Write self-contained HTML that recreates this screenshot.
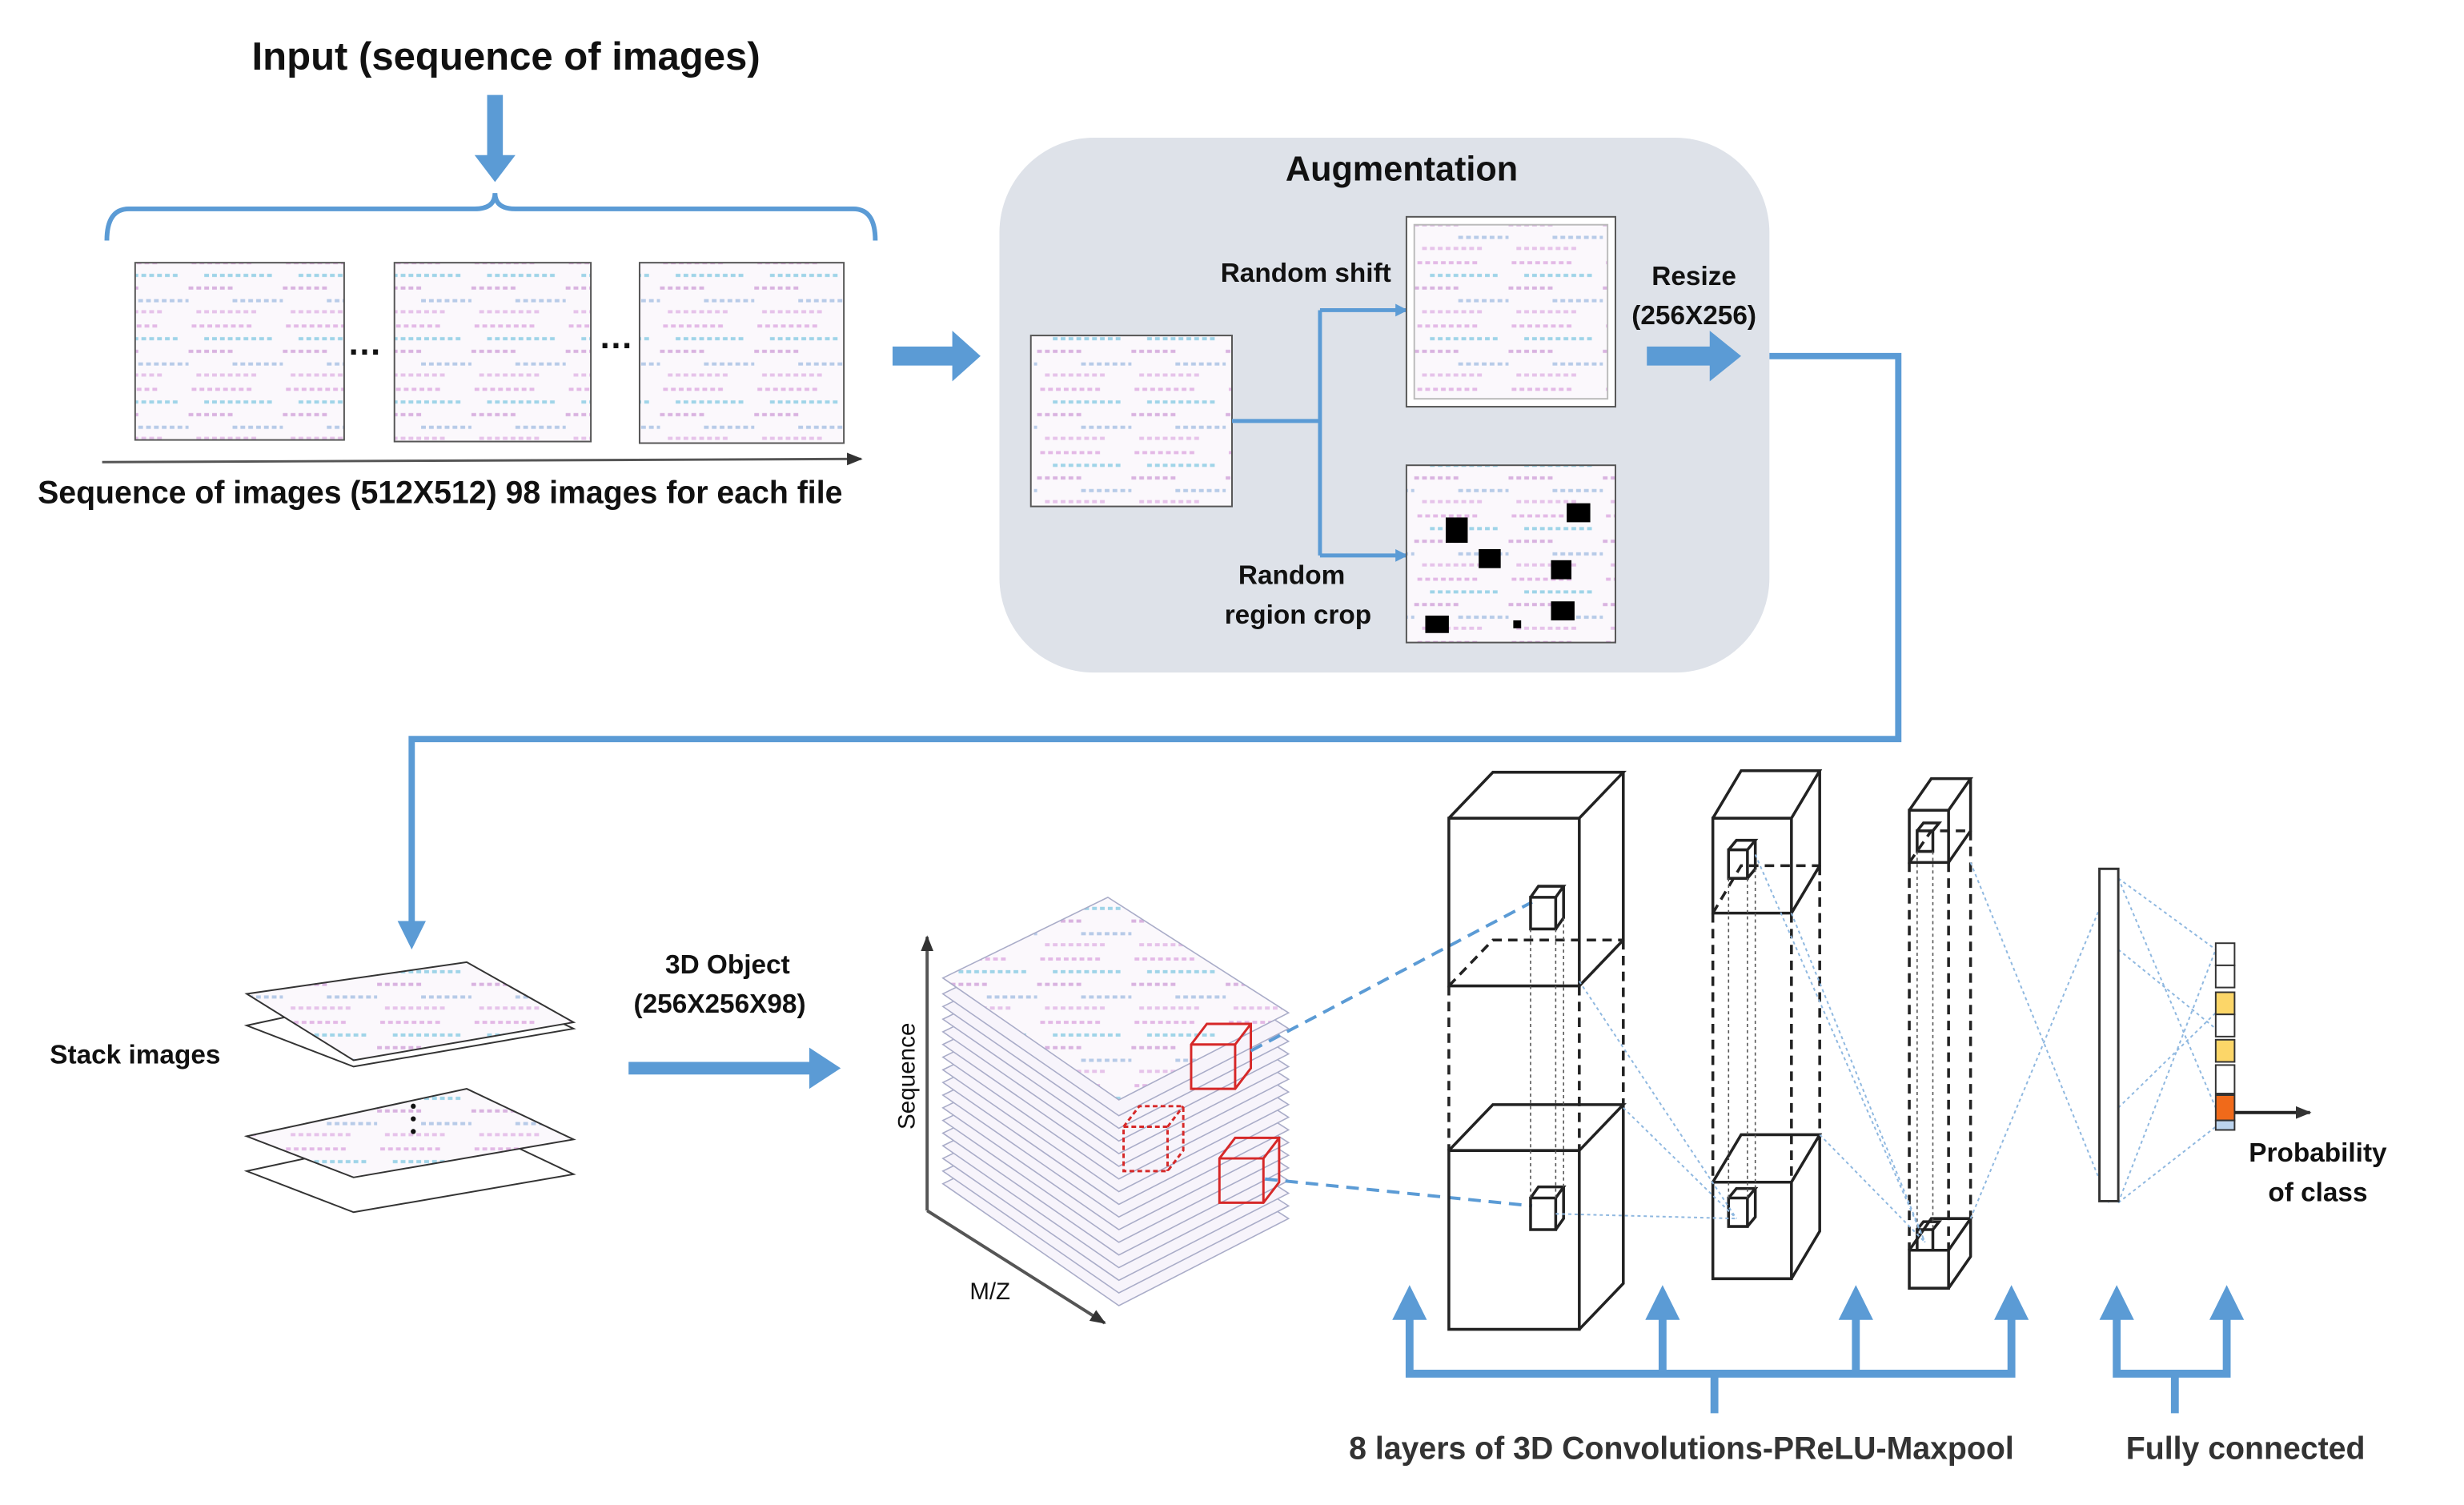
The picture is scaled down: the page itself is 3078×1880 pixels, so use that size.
<!DOCTYPE html>
<html><head><meta charset="utf-8"><style>
html,body{margin:0;padding:0;background:#fff}
svg{display:block}
text{font-family:"Liberation Sans",sans-serif;font-weight:bold;fill:#111}
</style></head><body>
<svg width="3078" height="1880" viewBox="0 0 1568 951" preserveAspectRatio="none" xmlns="http://www.w3.org/2000/svg">
<defs>
<pattern id="tex" width="60" height="40" patternUnits="userSpaceOnUse">
<rect width="60" height="40" fill="#fbf8fc"/>
<g stroke-width="2" stroke-dasharray="3 2">
<line x1="2" y1="6" x2="40" y2="6" stroke="#e3b9e6"/>
<line x1="10" y1="14" x2="55" y2="14" stroke="#9fd4e8"/>
<line x1="0" y1="22" x2="30" y2="22" stroke="#d9b3e0"/>
<line x1="28" y1="30" x2="60" y2="30" stroke="#b7cbe8"/>
<line x1="5" y1="37" x2="45" y2="37" stroke="#e6c3ea"/>
</g>
</pattern>
<marker id="ah" markerWidth="8" markerHeight="8" refX="7" refY="4" orient="auto" markerUnits="userSpaceOnUse"><path d="M0,0 L8,4 L0,8z" fill="#5b9bd5"/></marker>
<marker id="ak" markerWidth="10" markerHeight="10" refX="9" refY="5" orient="auto" markerUnits="userSpaceOnUse"><path d="M0,1 L10,5 L0,9z" fill="#333"/></marker>
</defs>

<text x="322" y="44" font-size="25" text-anchor="middle">Input (sequence of images)</text>
<path d="M310 60 h10 v38 h8 l-13 17 l-13 -17 h8z" fill="#5b9bd5"/>
<path d="M68 152 q0 -20 14 -20 h220 q13 0 13 -10 q0 10 13 10 h215 q14 0 14 20" fill="none" stroke="#5b9bd5" stroke-width="3"/>
<rect x="86" y="166" width="133" height="112" fill="url(#tex)" stroke="#555"/>
<rect x="251" y="166" width="125" height="113" fill="url(#tex)" stroke="#555"/>
<rect x="407" y="166" width="130" height="114" fill="url(#tex)" stroke="#555"/>
<text x="232" y="224" font-size="22" text-anchor="middle">…</text>
<text x="392" y="220" font-size="22" text-anchor="middle">…</text>
<line x1="65" y1="292" x2="548" y2="290" stroke="#555" stroke-width="1.5" marker-end="url(#ak)"/>
<text x="24" y="318" font-size="20">Sequence of images (512X512)  98 images for each file</text>
<path d="M568 219 h38 v-10 l18 16 l-18 16 v-10 h-38z" fill="#5b9bd5"/>

<rect x="636" y="87" width="490" height="338" rx="60" fill="#dee2e9"/>
<text x="892" y="114" font-size="22" text-anchor="middle">Augmentation</text>
<rect x="656" y="212" width="128" height="108" fill="url(#tex)" stroke="#555"/>
<polyline points="784,266 840,266" fill="none" stroke="#5b9bd5" stroke-width="2.5"/>
<polyline points="840,196 840,351" fill="none" stroke="#5b9bd5" stroke-width="2.5"/>
<line x1="840" y1="196" x2="895" y2="196" stroke="#5b9bd5" stroke-width="2.5" marker-end="url(#ah)"/>
<line x1="840" y1="351" x2="895" y2="351" stroke="#5b9bd5" stroke-width="2.5" marker-end="url(#ah)"/>
<rect x="895" y="137" width="133" height="120" fill="#fff" stroke="#555"/>
<rect x="900" y="142" width="123" height="110" fill="url(#tex)" stroke="#bbb"/>
<rect x="895" y="294" width="133" height="112" fill="url(#tex)" stroke="#555"/>
<g fill="#000">
<rect x="920" y="327" width="14" height="16"/><rect x="941" y="347" width="14" height="12"/>
<rect x="997" y="318" width="15" height="12"/><rect x="987" y="354" width="13" height="12"/>
<rect x="987" y="380" width="15" height="12"/><rect x="907" y="389" width="15" height="11"/>
<rect x="963" y="392" width="5" height="5"/>
</g>
<text x="831" y="178" font-size="17" text-anchor="middle">Random shift</text>
<text x="822" y="369" font-size="17" text-anchor="middle">Random</text>
<text x="826" y="394" font-size="17" text-anchor="middle">region crop</text>
<text x="1078" y="180" font-size="17" text-anchor="middle">Resize</text>
<text x="1078" y="205" font-size="17" text-anchor="middle">(256X256)</text>
<path d="M1048 219 h40 v-10 l20 16 l-20 16 v-10 h-40z" fill="#5b9bd5"/>

<polyline points="1126,225 1208,225 1208,467 262,467 262,585" fill="none" stroke="#5b9bd5" stroke-width="4"/>
<path d="M253 582 l9 18 l9 -18z" fill="#5b9bd5"/>

<g fill="#fff" stroke="#333" stroke-width="1">
<path d="M157 740 l140 -30 l68 32 l-140 24z"/>
<path d="M157 718 l140 -30 l68 32 l-140 24z" fill="url(#tex)"/>
<path d="M157 648 l140 -30 l68 32 l-140 24z"/>
<path d="M157 628 l140 -20 l68 38 l-140 24z" fill="url(#tex)"/>
</g>
<g fill="#111"><circle cx="263" cy="699" r="1.6"/><circle cx="263" cy="707" r="1.6"/><circle cx="263" cy="715" r="1.6"/></g>
<text x="86" y="672" font-size="17" text-anchor="middle">Stack images</text>
<text x="463" y="615" font-size="17" text-anchor="middle">3D Object</text>
<text x="458" y="640" font-size="17" text-anchor="middle">(256X256X98)</text>
<path d="M400 671 h115 v-9 l20 13 l-20 13 v-9 h-115z" fill="#5b9bd5"/>

<line x1="590" y1="765" x2="590" y2="592" stroke="#555" stroke-width="2" marker-end="url(#ak)"/>
<line x1="590" y1="765" x2="703" y2="836" stroke="#555" stroke-width="2" marker-end="url(#ak)"/>
<text x="582" y="680" font-size="15" text-anchor="middle" transform="rotate(-90 582 680)" style="font-weight:normal">Sequence</text>
<text x="630" y="821" font-size="15" text-anchor="middle" style="font-weight:normal">M/Z</text>
<g stroke="#a9acc8" stroke-width="0.8" fill="#f7f4fb">
<path d="M600 748 l105 -51 l115 73 l-108 55z"/>
<path d="M600 740 l105 -51 l115 73 l-108 55z"/>
<path d="M600 732 l105 -51 l115 73 l-108 55z"/>
<path d="M600 724 l105 -51 l115 73 l-108 55z"/>
<path d="M600 716 l105 -51 l115 73 l-108 55z"/>
<path d="M600 708 l105 -51 l115 73 l-108 55z"/>
<path d="M600 700 l105 -51 l115 73 l-108 55z"/>
<path d="M600 692 l105 -51 l115 73 l-108 55z"/>
<path d="M600 684 l105 -51 l115 73 l-108 55z"/>
<path d="M600 676 l105 -51 l115 73 l-108 55z"/>
<path d="M600 668 l105 -51 l115 73 l-108 55z"/>
<path d="M600 660 l105 -51 l115 73 l-108 55z"/>
<path d="M600 652 l105 -51 l115 73 l-108 55z"/>
<path d="M600 644 l105 -51 l115 73 l-108 55z"/>
<path d="M600 636 l105 -51 l115 73 l-108 55z"/>
<path d="M600 628 l105 -51 l115 73 l-108 55z"/>
<path d="M600 618 l105 -51 l115 73 l-108 55z" fill="url(#tex)"/>
</g>
<g fill="none" stroke="#d62828" stroke-width="1.5">
<path d="M758 660 l10 -13 h28 v28 l-10 13 h-28z M758 660 h28 v28 M786 660 l10 -13"/>
<path d="M776 732 l10 -13 h28 v28 l-10 13 h-28z M776 732 h28 v28 M804 732 l10 -13"/>
<path d="M715 712 l10 -13 h28 v28 l-10 13 h-28z M715 712 h28 v28 M743 712 l10 -13" stroke-dasharray="3 2"/>
</g>
<line x1="796" y1="664" x2="975" y2="570" stroke="#5b9bd5" stroke-width="2" stroke-dasharray="8 5"/>
<line x1="805" y1="745" x2="975" y2="762" stroke="#5b9bd5" stroke-width="2" stroke-dasharray="8 5"/>

<g fill="none" stroke="#222" stroke-width="1.8">
<path d="M922 517 h83 v106 h-83z M922 517 l28 -29 h83 l-28 29 M1033 488 v106 l-28 29"/>
<path d="M922 623 v104 M1005 623 v104 M1033 594 v104 M922 623 l28 -29 h83" stroke-dasharray="6 4"/>
<path d="M922 727 h83 v113 h-83z M922 727 l28 -29 h83 l-28 29 M1033 698 v113 l-28 29"/>
<path d="M1090 517 h50 v60 h-50z M1090 517 l18 -30 h50 l-18 30 M1158 487 v60 l-18 30"/>
<path d="M1090 577 v170 M1140 577 v170 M1158 547 v170 M1090 577 l18 -30 h50" stroke-dasharray="6 4"/>
<path d="M1090 747 h50 v61 h-50z M1090 747 l18 -30 h50 l-18 30 M1158 717 v61 l-18 30"/>
<path d="M1215 512 h25 v33 h-25z M1215 512 l14 -20 h25 l-14 20 M1254 492 v33 l-14 20"/>
<path d="M1215 545 v245 M1240 545 v245 M1254 525 v245 M1215 545 l14 -20 h25" stroke-dasharray="6 4"/>
<path d="M1215 790 h25 v24 h-25z M1215 790 l14 -20 h25 l-14 20 M1254 770 v24 l-14 20"/>
<path d="M974 567 h16 v20 h-16z M974 567 l5 -7 h16 l-5 7 M995 560 v20 l-5 7"/>
<path d="M974 757 h16 v20 h-16z M974 757 l5 -7 h16 l-5 7 M995 750 v20 l-5 7"/>
<path d="M1100 537 h12 v18 h-12z M1100 537 l5 -6 h12 l-5 6 M1117 531 v18 l-5 6"/>
<path d="M1100 757 h12 v18 h-12z M1100 757 l5 -6 h12 l-5 6 M1117 751 v18 l-5 6"/>
<path d="M1220 525 h10 v13 h-10z M1220 525 l4 -5 h10 l-4 5"/>
<path d="M1220 777 h10 v13 h-10z M1220 777 l4 -5 h10 l-4 5"/>
</g>
<g stroke="#555" stroke-width="0.8" stroke-dasharray="2 2">
<line x1="974" y1="587" x2="974" y2="757"/><line x1="990" y1="587" x2="990" y2="757"/><line x1="995" y1="580" x2="995" y2="750"/>
<line x1="1100" y1="555" x2="1100" y2="757"/><line x1="1112" y1="555" x2="1112" y2="757"/><line x1="1117" y1="549" x2="1117" y2="751"/>
<line x1="1220" y1="538" x2="1220" y2="777"/><line x1="1230" y1="538" x2="1230" y2="777"/>
</g>
<g stroke="#8fb8e0" stroke-width="1" stroke-dasharray="2 2">
<line x1="1005" y1="620" x2="1105" y2="770"/><line x1="1033" y1="700" x2="1105" y2="770"/><line x1="990" y1="767" x2="1105" y2="770"/>
<line x1="1140" y1="577" x2="1225" y2="785"/><line x1="1158" y1="717" x2="1225" y2="785"/><line x1="1117" y1="540" x2="1225" y2="785"/>
<line x1="1254" y1="545" x2="1342" y2="760"/><line x1="1254" y1="770" x2="1342" y2="560"/>
<line x1="1348" y1="555" x2="1410" y2="600"/><line x1="1348" y1="555" x2="1410" y2="700"/><line x1="1348" y1="760" x2="1410" y2="600"/><line x1="1348" y1="760" x2="1410" y2="712"/>
<line x1="1348" y1="600" x2="1410" y2="650"/><line x1="1348" y1="700" x2="1410" y2="640"/>
</g>
<rect x="1336" y="549" width="12" height="210" fill="#fff" stroke="#333" stroke-width="1.5"/>
<g stroke="#333" stroke-width="1">
<rect x="1410" y="596" width="12" height="14" fill="#fff"/>
<rect x="1410" y="610" width="12" height="14" fill="#fff"/>
<rect x="1410" y="627" width="12" height="14" fill="#fcd668"/>
<rect x="1410" y="641" width="12" height="14" fill="#fff"/>
<rect x="1410" y="657" width="12" height="14" fill="#fcd668"/>
<rect x="1410" y="673" width="12" height="18" fill="#fff"/>
<rect x="1410" y="692" width="12" height="16" fill="#f06a1a"/>
<rect x="1410" y="708" width="12" height="6" fill="#bcd4ee"/>
</g>
<line x1="1422" y1="703" x2="1470" y2="703" stroke="#222" stroke-width="2" marker-end="url(#ak)"/>
<text x="1475" y="734" font-size="17" text-anchor="middle">Probability</text>
<text x="1475" y="759" font-size="17" text-anchor="middle">of class</text>

<g fill="none" stroke="#5b9bd5" stroke-width="5">
<polyline points="897,830 897,868 1280,868 1280,830"/>
<line x1="1058" y1="830" x2="1058" y2="868"/><line x1="1181" y1="830" x2="1181" y2="868"/>
<line x1="1091" y1="868" x2="1091" y2="893"/>
<polyline points="1347,830 1347,868 1417,868 1417,830"/>
<line x1="1384" y1="868" x2="1384" y2="893"/>
</g>
<g fill="#5b9bd5">
<path d="M886 834 l11 -22 l11 22z"/><path d="M1047 834 l11 -22 l11 22z"/><path d="M1170 834 l11 -22 l11 22z"/><path d="M1269 834 l11 -22 l11 22z"/>
<path d="M1336 834 l11 -22 l11 22z"/><path d="M1406 834 l11 -22 l11 22z"/>
</g>
<text x="1070" y="922" font-size="20" text-anchor="middle" style="fill:#333">8 layers of 3D Convolutions-PReLU-Maxpool</text>
<text x="1429" y="922" font-size="20" text-anchor="middle" style="fill:#333">Fully connected</text>
</svg>
</body></html>
